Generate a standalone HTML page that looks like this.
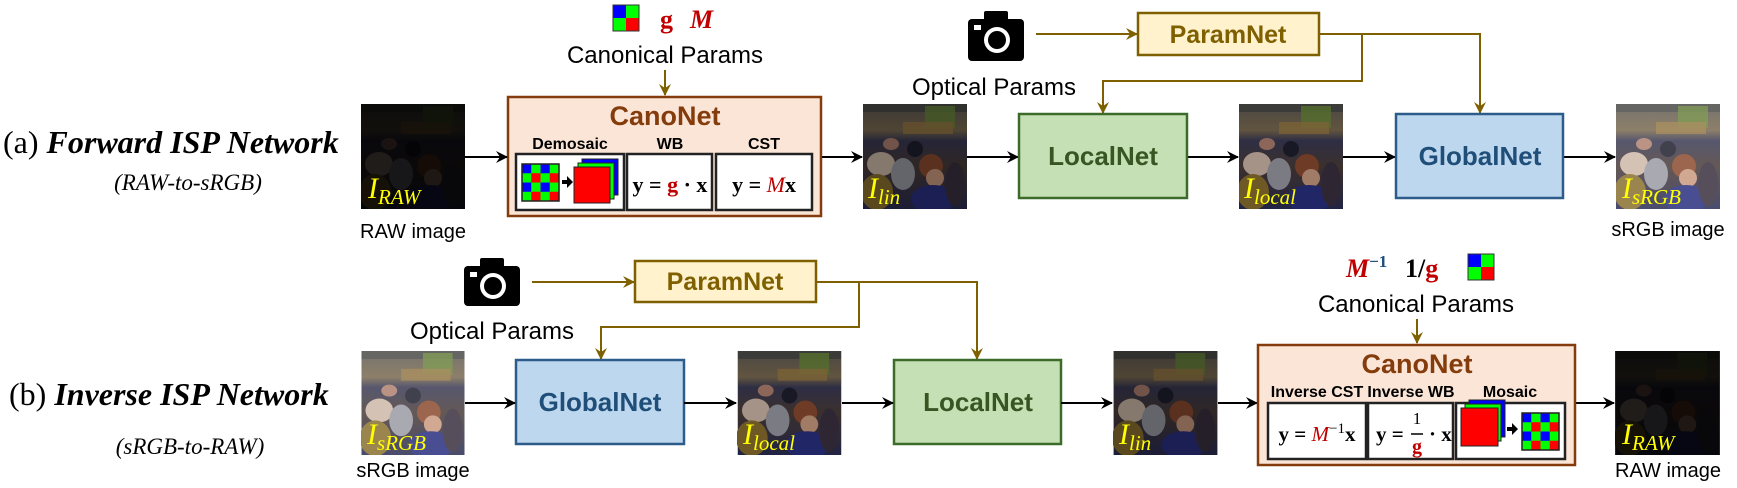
<!DOCTYPE html>
<html><head><meta charset="utf-8"><style>
html,body{margin:0;padding:0;background:#fff;width:1737px;height:488px;overflow:hidden}
svg{display:block}
.sans{font-family:"Liberation Sans",sans-serif}
.ser{font-family:"Liberation Serif",serif}
.nar{font-family:"Liberation Sans Narrow","Liberation Sans",sans-serif;font-weight:bold}
</style></head><body>
<svg width="1737" height="488" viewBox="0 0 1737 488" xmlns="http://www.w3.org/2000/svg">
<defs>
<marker id="ab" markerWidth="12" markerHeight="12" refX="11" refY="6" orient="auto" markerUnits="userSpaceOnUse"><path d="M0,0 L12,6 L0,12 L4,6 Z" fill="#000"/></marker>
<marker id="ao" markerWidth="12" markerHeight="12" refX="11" refY="6" orient="auto" markerUnits="userSpaceOnUse"><path d="M0,0 L12,6 L0,12 L4,6 Z" fill="#7f6000"/></marker>
<linearGradient id="pg" x1="0" y1="0" x2="0" y2="1">
<stop offset="0" stop-color="#5e5a55"/><stop offset="0.25" stop-color="#7a6a50"/><stop offset="0.35" stop-color="#3a3a55"/><stop offset="0.6" stop-color="#4a3c38"/><stop offset="1" stop-color="#2a2d55"/></linearGradient>
<symbol id="photo" viewBox="0 0 104 105">
<rect width="104" height="105" fill="url(#pg)"/>
<rect x="0" y="0" width="104" height="8" fill="#4a4a48"/>
<rect x="62" y="2" width="30" height="22" fill="#6a8a3a" opacity="0.8"/>
<rect x="40" y="18" width="50" height="12" fill="#9a7a45" opacity="0.8"/>
<ellipse cx="18" cy="60" rx="14" ry="12" fill="#cdb8a8"/>
<ellipse cx="14" cy="88" rx="16" ry="18" fill="#8a7030"/>
<ellipse cx="40" cy="70" rx="12" ry="16" fill="#9a9aa5"/>
<ellipse cx="68" cy="62" rx="12" ry="12" fill="#8a4a30"/>
<ellipse cx="72" cy="74" rx="9" ry="9" fill="#c99a80"/>
<ellipse cx="70" cy="95" rx="22" ry="14" fill="#2a3080"/>
<ellipse cx="52" cy="45" rx="8" ry="8" fill="#202030"/>
<ellipse cx="92" cy="80" rx="10" ry="22" fill="#3a3040"/>
<ellipse cx="28" cy="40" rx="8" ry="6" fill="#b08070"/>
</symbol>
</defs>

<!-- ===== Row (a) ===== -->
<text x="3" y="153" class="ser" font-size="32" fill="#000">(a) <tspan font-weight="bold" font-style="italic">Forward ISP Network</tspan></text>
<text x="188" y="190" class="ser" font-size="23" font-style="italic" text-anchor="middle">(RAW-to-sRGB)</text>

<use href="#photo" x="361" y="104" width="104" height="105"/>
<rect x="361" y="104" width="104" height="105" fill="#000" opacity="0.85"/>
<text x="368" y="198" class="ser" font-size="30" font-style="italic" fill="#ffff00">I<tspan font-size="21" dy="6">RAW</tspan></text>
<text x="413" y="238" class="sans" font-size="20" text-anchor="middle">RAW image</text>

<g>
<rect x="613" y="5" width="13" height="13" fill="#0000ff"/><rect x="626" y="5" width="13" height="13" fill="#00ff00"/>
<rect x="613" y="18" width="13" height="13" fill="#00ff00"/><rect x="626" y="18" width="13" height="13" fill="#ff0000"/>
<rect x="613" y="5" width="26" height="26" fill="none" stroke="#333" stroke-width="1"/>
</g>
<text x="660" y="28" class="ser" font-size="26" font-weight="bold" fill="#c00000">g</text>
<text x="690" y="28" class="ser" font-size="26" font-weight="bold" font-style="italic" fill="#c00000">M</text>
<text x="665" y="63" class="sans" font-size="24" text-anchor="middle">Canonical Params</text>
<line x1="665" y1="70" x2="665" y2="95" stroke="#7f6000" stroke-width="2" marker-end="url(#ao)"/>

<rect x="508" y="97" width="313" height="119" fill="#fbe5d6" stroke="#843c0c" stroke-width="2.5"/>
<text x="665" y="125" class="sans" font-size="27" font-weight="bold" fill="#843c0c" text-anchor="middle">CanoNet</text>
<text x="570" y="149" class="nar" font-size="16" text-anchor="middle">Demosaic</text>
<text x="670" y="149" class="nar" font-size="16" text-anchor="middle">WB</text>
<text x="764" y="149" class="nar" font-size="16" text-anchor="middle">CST</text>
<rect x="516" y="154" width="108" height="56" fill="#fff" stroke="#222" stroke-width="2.5"/>
<rect x="627" y="154" width="85" height="56" fill="#fff" stroke="#222" stroke-width="2.5"/>
<rect x="716" y="154" width="96" height="56" fill="#fff" stroke="#222" stroke-width="2.5"/>
<g id="bayer1">
<rect x="522" y="164" width="37" height="37" fill="#00ff00"/>
<rect x="522" y="164" width="9.25" height="9.25" fill="#0000ff"/><rect x="540.5" y="164" width="9.25" height="9.25" fill="#0000ff"/>
<rect x="531.25" y="173.25" width="9.25" height="9.25" fill="#ff0000"/><rect x="549.75" y="173.25" width="9.25" height="9.25" fill="#ff0000"/>
<rect x="522" y="182.5" width="9.25" height="9.25" fill="#0000ff"/><rect x="540.5" y="182.5" width="9.25" height="9.25" fill="#0000ff"/>
<rect x="531.25" y="191.75" width="9.25" height="9.25" fill="#ff0000"/><rect x="549.75" y="191.75" width="9.25" height="9.25" fill="#ff0000"/>
<rect x="522" y="164" width="37" height="37" fill="none" stroke="#222" stroke-width="1.5"/>
</g>
<path d="M562,180 h5 v-4 l6,6 l-6,6 v-4 h-5 z" fill="#000"/>
<rect x="582" y="159" width="36" height="36" fill="#0000ff" stroke="#222"/>
<rect x="578" y="163" width="36" height="36" fill="#00ff00" stroke="#222"/>
<rect x="574" y="167" width="36" height="36" fill="#ff0000" stroke="#222"/>
<text x="670" y="192" class="ser" font-size="22" font-weight="bold" text-anchor="middle">y = <tspan fill="#c00000">g</tspan> · x</text>
<text x="764" y="192" class="ser" font-size="22" font-weight="bold" text-anchor="middle">y = <tspan fill="#c00000" font-weight="normal" font-style="italic">M</tspan>x</text>

<line x1="465" y1="157" x2="507" y2="157" stroke="#000" stroke-width="2" marker-end="url(#ab)"/>
<line x1="822" y1="157" x2="862" y2="157" stroke="#000" stroke-width="2" marker-end="url(#ab)"/>
<line x1="967" y1="157" x2="1018" y2="157" stroke="#000" stroke-width="2" marker-end="url(#ab)"/>
<line x1="1187" y1="157" x2="1238" y2="157" stroke="#000" stroke-width="2" marker-end="url(#ab)"/>
<line x1="1343" y1="157" x2="1395" y2="157" stroke="#000" stroke-width="2" marker-end="url(#ab)"/>
<line x1="1563" y1="157" x2="1615" y2="157" stroke="#000" stroke-width="2" marker-end="url(#ab)"/>

<use href="#photo" x="863" y="104" width="104" height="105"/>
<rect x="863" y="104" width="104" height="105" fill="#000" opacity="0.35"/>
<text x="868" y="198" class="ser" font-size="30" font-style="italic" fill="#ffff00">I<tspan font-size="21" dy="6">lin</tspan></text>

<g transform="translate(968,11)">
<rect x="0" y="8" width="56" height="42" rx="4" fill="#000"/>
<rect x="16" y="0" width="24" height="12" rx="2" fill="#000"/>
<circle cx="29" cy="29" r="13" fill="#fff"/><circle cx="29" cy="29" r="9" fill="#000"/>
<rect x="6" y="14" width="7" height="5" fill="#fff"/>
</g>
<text x="994" y="95" class="sans" font-size="24" text-anchor="middle">Optical Params</text>

<rect x="1138" y="13" width="181" height="42" fill="#fff2cc" stroke="#7f6000" stroke-width="2.5"/>
<text x="1228" y="43" class="sans" font-size="25" font-weight="bold" fill="#7f6000" text-anchor="middle">ParamNet</text>
<line x1="1036" y1="34" x2="1137" y2="34" stroke="#7f6000" stroke-width="2" marker-end="url(#ao)"/>
<polyline points="1319,34 1480,34 1480,113" fill="none" stroke="#7f6000" stroke-width="2" marker-end="url(#ao)"/>
<polyline points="1362,34 1362,81 1103,81 1103,113" fill="none" stroke="#7f6000" stroke-width="2" marker-end="url(#ao)"/>

<rect x="1019" y="114" width="168" height="84" fill="#c5e0b4" stroke="#3d6b2a" stroke-width="2.5"/>
<text x="1103" y="165" class="sans" font-size="26" font-weight="bold" fill="#375623" text-anchor="middle">LocalNet</text>

<use href="#photo" x="1239" y="104" width="104" height="105"/>
<rect x="1239" y="104" width="104" height="105" fill="#000" opacity="0.2"/>
<text x="1244" y="198" class="ser" font-size="30" font-style="italic" fill="#ffff00">I<tspan font-size="21" dy="6">local</tspan></text>

<rect x="1396" y="114" width="167" height="84" fill="#bdd7ee" stroke="#2e5c8a" stroke-width="2.5"/>
<text x="1480" y="165" class="sans" font-size="26" font-weight="bold" fill="#1f4e79" text-anchor="middle">GlobalNet</text>

<use href="#photo" x="1616" y="104" width="104" height="105"/>
<rect x="1616" y="104" width="104" height="105" fill="#fff" opacity="0.15"/>
<text x="1622" y="198" class="ser" font-size="30" font-style="italic" fill="#ffff00">I<tspan font-size="21" dy="6">sRGB</tspan></text>
<text x="1668" y="236" class="sans" font-size="20" text-anchor="middle">sRGB image</text>

<!-- ===== Row (b) ===== -->
<text x="9" y="405" class="ser" font-size="32" fill="#000">(b) <tspan font-weight="bold" font-style="italic">Inverse ISP Network</tspan></text>
<text x="190" y="454" class="ser" font-size="23" font-style="italic" text-anchor="middle">(sRGB-to-RAW)</text>

<use href="#photo" x="361" y="351" width="104" height="104"/>
<rect x="361" y="351" width="104" height="104" fill="#fff" opacity="0.15"/>
<text x="367" y="444" class="ser" font-size="30" font-style="italic" fill="#ffff00">I<tspan font-size="21" dy="6">sRGB</tspan></text>
<text x="413" y="477" class="sans" font-size="20" text-anchor="middle">sRGB image</text>

<g transform="translate(464,258)">
<rect x="0" y="8" width="56" height="40" rx="4" fill="#000"/>
<rect x="16" y="0" width="24" height="12" rx="2" fill="#000"/>
<circle cx="29" cy="28" r="13" fill="#fff"/><circle cx="29" cy="28" r="9" fill="#000"/>
<rect x="6" y="14" width="7" height="5" fill="#fff"/>
</g>
<text x="492" y="339" class="sans" font-size="24" text-anchor="middle">Optical Params</text>

<rect x="635" y="261" width="181" height="41" fill="#fff2cc" stroke="#7f6000" stroke-width="2.5"/>
<text x="725" y="290" class="sans" font-size="25" font-weight="bold" fill="#7f6000" text-anchor="middle">ParamNet</text>
<line x1="532" y1="282" x2="634" y2="282" stroke="#7f6000" stroke-width="2" marker-end="url(#ao)"/>
<polyline points="816,282 977,282 977,359" fill="none" stroke="#7f6000" stroke-width="2" marker-end="url(#ao)"/>
<polyline points="859,282 859,327 601,327 601,359" fill="none" stroke="#7f6000" stroke-width="2" marker-end="url(#ao)"/>

<rect x="516" y="360" width="168" height="84" fill="#bdd7ee" stroke="#2e5c8a" stroke-width="2.5"/>
<text x="600" y="411" class="sans" font-size="26" font-weight="bold" fill="#1f4e79" text-anchor="middle">GlobalNet</text>

<use href="#photo" x="737" y="351" width="105" height="104"/>
<rect x="737" y="351" width="105" height="104" fill="#000" opacity="0.2"/>
<text x="743" y="444" class="ser" font-size="30" font-style="italic" fill="#ffff00">I<tspan font-size="21" dy="6">local</tspan></text>

<rect x="894" y="360" width="167" height="84" fill="#c5e0b4" stroke="#3d6b2a" stroke-width="2.5"/>
<text x="978" y="411" class="sans" font-size="26" font-weight="bold" fill="#375623" text-anchor="middle">LocalNet</text>

<use href="#photo" x="1113" y="351" width="105" height="104"/>
<rect x="1113" y="351" width="105" height="104" fill="#000" opacity="0.35"/>
<text x="1119" y="444" class="ser" font-size="30" font-style="italic" fill="#ffff00">I<tspan font-size="21" dy="6">lin</tspan></text>

<line x1="465" y1="403" x2="515" y2="403" stroke="#000" stroke-width="2" marker-end="url(#ab)"/>
<line x1="684" y1="403" x2="736" y2="403" stroke="#000" stroke-width="2" marker-end="url(#ab)"/>
<line x1="842" y1="403" x2="893" y2="403" stroke="#000" stroke-width="2" marker-end="url(#ab)"/>
<line x1="1061" y1="403" x2="1112" y2="403" stroke="#000" stroke-width="2" marker-end="url(#ab)"/>
<line x1="1218" y1="403" x2="1257" y2="403" stroke="#000" stroke-width="2" marker-end="url(#ab)"/>
<line x1="1575" y1="403" x2="1614" y2="403" stroke="#000" stroke-width="2" marker-end="url(#ab)"/>

<text x="1346" y="277" class="ser" font-size="26" font-weight="bold" font-style="italic" fill="#c00000">M<tspan font-size="17" dy="-10" font-style="normal" fill="#1f4e79">−1</tspan></text>
<text x="1405" y="277" class="ser" font-size="26" font-weight="bold">1/<tspan fill="#c00000">g</tspan></text>
<g>
<rect x="1468" y="254" width="13" height="13" fill="#0000ff"/><rect x="1481" y="254" width="13" height="13" fill="#00ff00"/>
<rect x="1468" y="267" width="13" height="13" fill="#00ff00"/><rect x="1481" y="267" width="13" height="13" fill="#ff0000"/>
<rect x="1468" y="254" width="26" height="26" fill="none" stroke="#333"/>
</g>
<text x="1416" y="312" class="sans" font-size="24" text-anchor="middle">Canonical Params</text>
<line x1="1417" y1="319" x2="1417" y2="343" stroke="#7f6000" stroke-width="2" marker-end="url(#ao)"/>

<rect x="1258" y="345" width="317" height="120" fill="#fbe5d6" stroke="#843c0c" stroke-width="2.5"/>
<text x="1417" y="373" class="sans" font-size="27" font-weight="bold" fill="#843c0c" text-anchor="middle">CanoNet</text>
<text x="1317" y="397" class="nar" font-size="16" text-anchor="middle">Inverse CST</text>
<text x="1411" y="397" class="nar" font-size="16" text-anchor="middle">Inverse WB</text>
<text x="1510" y="397" class="nar" font-size="16" text-anchor="middle">Mosaic</text>
<rect x="1268" y="403" width="98" height="56" fill="#fff" stroke="#222" stroke-width="2.5"/>
<rect x="1368" y="403" width="85" height="56" fill="#fff" stroke="#222" stroke-width="2.5"/>
<rect x="1456" y="403" width="109" height="56" fill="#fff" stroke="#222" stroke-width="2.5"/>
<text x="1317" y="441" class="ser" font-size="21" font-weight="bold" text-anchor="middle">y = <tspan fill="#c00000" font-weight="normal" font-style="italic">M</tspan><tspan font-weight="normal" font-size="15" dy="-8">−1</tspan><tspan dy="8">x</tspan></text>
<text x="1376" y="441" class="ser" font-size="21" font-weight="bold">y =</text>
<text x="1417" y="424" class="ser" font-size="17" text-anchor="middle">1</text>
<line x1="1411" y1="434" x2="1423" y2="434" stroke="#000" stroke-width="1.5"/>
<text x="1417" y="453" class="ser" font-size="20" font-weight="bold" fill="#c00000" text-anchor="middle">g</text>
<text x="1429" y="441" class="ser" font-size="21" font-weight="bold">· x</text>
<rect x="1469" y="400" width="36" height="37" fill="#0000ff" stroke="#222"/>
<rect x="1465" y="404" width="36" height="37" fill="#00ff00" stroke="#222"/>
<rect x="1461" y="408" width="37" height="38" fill="#ff0000" stroke="#222"/>
<path d="M1507,427 h5 v-4 l6,6 l-6,6 v-4 h-5 z" fill="#000"/>
<use href="#bayer1" transform="translate(1000,249)"/>

<use href="#photo" x="1615" y="351" width="105" height="104"/>
<rect x="1615" y="351" width="105" height="104" fill="#000" opacity="0.85"/>
<text x="1622" y="444" class="ser" font-size="30" font-style="italic" fill="#ffff00">I<tspan font-size="21" dy="6">RAW</tspan></text>
<text x="1668" y="477" class="sans" font-size="20" text-anchor="middle">RAW image</text>
</svg>
</body></html>
